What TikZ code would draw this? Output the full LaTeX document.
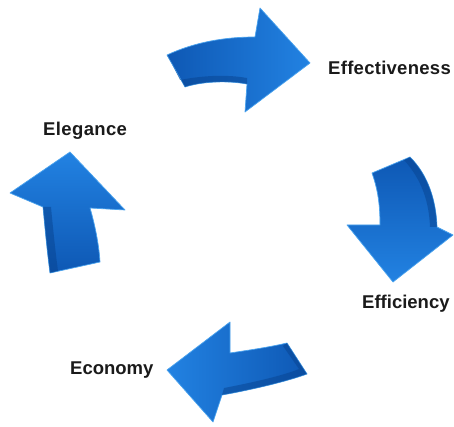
\documentclass[tikz,border=0pt]{standalone}
\usepackage{fontspec}
\setmainfont{Liberation Sans}
\begin{document}
\begin{tikzpicture}[x=1pt,y=-1pt,
  arrowshape/.style={draw=arrowedge, line width=0.7pt, line join=round},
  band/.style={fill=arrowdark, fill opacity=0.5, draw=none},
  lbl/.style={font=\fontsize{18.5}{20}\selectfont\bfseries, text=labeltext, anchor=base west, inner sep=0pt}]
\definecolor{arrowdark}{HTML}{08438F}
\definecolor{arrowedge}{HTML}{4AA3EE}
\definecolor{blueA}{HTML}{0E58B4}
\definecolor{blueB}{HTML}{2282E2}
\definecolor{labeltext}{HTML}{1A1A1A}
\useasboundingbox (0,0) rectangle (454,427);
\fill[white] (0,0) rectangle (454,427);

% top arrow (to Effectiveness)
\shade[arrowshape, left color=blueA, right color=blueB]
  (167,55) .. controls (195,42) and (225,37) .. (255,37) -- (260,8) -- (310,63) -- (245,112)
  -- (247,84) .. controls (225,80) and (200,82) .. (185,87) -- cycle;
\fill[band] (167,55) -- (185,87) .. controls (200,82) and (225,80) .. (247,84) -- (247,78)
  .. controls (225,74) and (200,76) .. (180,80) -- (170,60) -- cycle;

% right arrow (to Efficiency)
\shade[arrowshape, top color=blueA, bottom color=blueB]
  (372,173) -- (410,157) .. controls (428,175) and (436,200) .. (437,227) -- (453,235)
  -- (393,282) -- (347,225) -- (380,225) .. controls (380,205) and (378,190) .. (372,173) -- cycle;
\fill[band] (410,157) .. controls (428,175) and (436,200) .. (437,227) -- (430,227)
  .. controls (429,202) and (422,180) .. (404,160) -- cycle;

% bottom arrow (to Economy)
\shade[arrowshape, left color=blueB, right color=blueA]
  (167,370) -- (230,322) -- (230,353) .. controls (250,350) and (270,347) .. (287,343)
  -- (307,374) .. controls (285,382) and (250,390) .. (222,395) -- (213,422) -- cycle;
\fill[band] (287,343) -- (307,374) .. controls (285,382) and (250,390) .. (222,395) -- (224,388)
  .. controls (250,383) and (282,376) .. (299,369) -- (283,346) -- cycle;

% left arrow (to Elegance)
\shade[arrowshape, top color=blueB, bottom color=blueA]
  (70,152) -- (125,210) -- (90,208) .. controls (95,225) and (99,245) .. (100,262)
  -- (50,273) .. controls (47,250) and (45,228) .. (43,207) -- (10,193) -- cycle;
\fill[band] (43,207) .. controls (45,228) and (47,250) .. (50,273) -- (58,271)
  .. controls (55,248) and (53,228) .. (51,207) -- cycle;

% labels
\node[lbl] (effectiveness) at (328,75) {\addfontfeatures{LetterSpace=1.5}Effectiveness};
\node[lbl] (elegance) at (43,136) {\addfontfeatures{LetterSpace=2}Elegance};
\node[lbl] (efficiency) at (362,308) {Efficiency};
\node[lbl] (economy) at (70,374) {Economy};
\end{tikzpicture}
\end{document}
